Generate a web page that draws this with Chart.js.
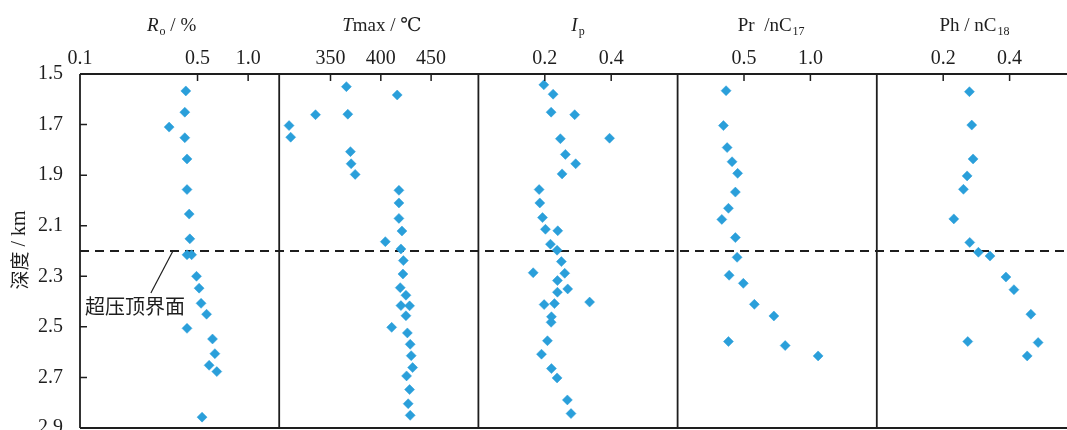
<!DOCTYPE html>
<html>
<head>
<meta charset="utf-8">
<script src="https://cdn.jsdelivr.net/npm/chart.js@4/dist/chart.umd.min.js"></script>
<style>
  html, body { margin: 0; padding: 0; background: #fff; overflow: hidden; }
  #wrap { position: absolute; left: 0; top: 0; width: 1090px; height: 450px; }
</style>
</head>
<body>
<div id="wrap"><canvas id="c"></canvas></div>
<script>
// Depth axis (km), shared by all five panels
const depthTicks = [1.5, 1.7, 1.9, 2.1, 2.3, 2.5, 2.7, 2.9];
const depthLabels = ['1.5', '1.7', '1.9', '2.1', '2.3', '2.5', '2.7', '2.9'];
const overpressureTop = 2.2;

// Vitrinite reflectance Ro (%)
const roDepth = [1.567, 1.651, 1.710, 1.752, 1.836, 1.957, 2.054, 2.152, 2.215, 2.215, 2.300, 2.347, 2.407, 2.450, 2.506, 2.548, 2.606, 2.652, 2.677, 2.857];
const roValue = [0.426, 0.420, 0.339, 0.420, 0.433, 0.433, 0.446, 0.450, 0.433, 0.461, 0.493, 0.511, 0.525, 0.566, 0.433, 0.614, 0.634, 0.586, 0.651, 0.532];
const roTicks = [0.1, 0.5, 1.0];
const roLabels = ['0.1', '0.5', '1.0'];

// Tmax (°C)
const tmaxDepth = [1.550, 1.583, 1.659, 1.661, 1.704, 1.750, 1.807, 1.855, 1.897, 1.960, 2.010, 2.071, 2.121, 2.163, 2.192, 2.238, 2.291, 2.345, 2.375, 2.416, 2.417, 2.456, 2.502, 2.524, 2.569, 2.614, 2.661, 2.694, 2.748, 2.804, 2.850];
const tmaxValue = [365.8, 416.3, 367.2, 335.1, 308.8, 310.4, 369.8, 370.5, 374.5, 418, 418, 418, 421, 404.5, 420, 422.4, 422, 419.3, 425, 420, 428.6, 425, 410.8, 426.4, 429.2, 430.2, 431.6, 425.6, 428.6, 427.2, 429.2];
const tmaxTicks = [350, 400, 450];
const tmaxLabels = ['350', '400', '450'];

// Production index Ip
const ipDepth = [1.543, 1.580, 1.651, 1.661, 1.754, 1.756, 1.818, 1.855, 1.895, 1.957, 2.010, 2.068, 2.114, 2.120, 2.173, 2.197, 2.242, 2.286, 2.288, 2.317, 2.350, 2.363, 2.402, 2.408, 2.412, 2.460, 2.482, 2.555, 2.608, 2.665, 2.702, 2.789, 2.843];
const ipValue = [0.197, 0.225, 0.219, 0.290, 0.395, 0.247, 0.262, 0.293, 0.252, 0.183, 0.185, 0.193, 0.202, 0.239, 0.217, 0.237, 0.250, 0.165, 0.260, 0.238, 0.269, 0.238, 0.335, 0.229, 0.198, 0.220, 0.219, 0.208, 0.190, 0.220, 0.237, 0.268, 0.279];
const ipTicks = [0.2, 0.4];
const ipLabels = ['0.2', '0.4'];

// Pristane / nC17
const prDepth = [1.566, 1.704, 1.791, 1.847, 1.893, 1.967, 2.031, 2.075, 2.147, 2.225, 2.296, 2.328, 2.411, 2.457, 2.558, 2.574, 2.615];
const prValue = [0.365, 0.345, 0.373, 0.410, 0.452, 0.435, 0.383, 0.333, 0.435, 0.448, 0.388, 0.495, 0.578, 0.725, 0.383, 0.810, 1.058];
const prTicks = [0.5, 1.0];
const prLabels = ['0.5', '1.0'];

// Phytane / nC18
const phDepth = [1.570, 1.702, 1.836, 1.903, 1.956, 2.073, 2.166, 2.205, 2.220, 2.303, 2.353, 2.450, 2.558, 2.562, 2.615];
const phValue = [0.279, 0.286, 0.290, 0.272, 0.261, 0.232, 0.280, 0.306, 0.341, 0.389, 0.413, 0.464, 0.274, 0.486, 0.453];
const phTicks = [0.2, 0.4];
const phLabels = ['0.2', '0.4'];

// Panel titles as rich-text runs: style n = normal, i = italic, s = subscript
const panelTitles = [
  [['R', 'i'], ['o', 's'], [' / %', 'n']],
  [['T', 'i'], ['max / \u2103', 'n']],
  [['I', 'i'], ['p', 's']],
  [['Pr  /nC', 'n'], ['17', 's']],
  [['Ph / nC', 'n'], ['18', 's']]
];
const annotationText = '超压顶界面';
const yTitleCjk = '深度';
const yTitleUnit = ' / km';

// ---- styling ----
const MARK = '#2a9fda';
const INK = '#1e1e1e';
const SERIF = '"Liberation Serif", "DejaVu Serif", serif';
const CJK = '"Noto Sans CJK SC", sans-serif';
const titleShift = [-8, 3, 0, -6, -2];
const TICK_SIZE = 20;

const toPoints = (xs, ys) => xs.map((v, i) => ({ x: v, y: ys[i] }));

const panels = [
  { id: 'x0', type: 'logarithmic', min: 0.1, max: 1.53, ticks: roTicks, labels: roLabels, xs: roValue, ys: roDepth },
  { id: 'x1', type: 'linear', min: 299, max: 497, ticks: tmaxTicks, labels: tmaxLabels, xs: tmaxValue, ys: tmaxDepth },
  { id: 'x2', type: 'linear', min: 0, max: 0.6, ticks: ipTicks, labels: ipLabels, xs: ipValue, ys: ipDepth },
  { id: 'x3', type: 'linear', min: 0, max: 1.5, ticks: prTicks, labels: prLabels, xs: prValue, ys: prDepth },
  { id: 'x4', type: 'linear', min: 0, max: 0.6, ticks: phTicks, labels: phLabels, xs: phValue, ys: phDepth }
];

const scales = {
  y: {
    type: 'linear',
    position: 'left',
    reverse: true,
    min: 1.5,
    max: 2.9,
    grid: { display: false },
    border: { display: false },
    afterBuildTicks: s => { s.ticks = depthTicks.map(v => ({ value: v })); },
    afterFit: s => { s.width = 80; },
    ticks: {
      padding: 9,
      color: INK,
      font: { family: SERIF, size: TICK_SIZE },
      callback: (v) => depthLabels[depthTicks.findIndex(t => Math.abs(t - v) < 1e-6)] ?? ''
    }
  }
};
// Top axes sharing one stack are laid out last-registered first, so register them in reverse
panels.slice().reverse().forEach(p => {
  scales[p.id] = {
    type: p.type,
    position: 'top',
    stack: 'panels',
    stackWeight: 1,
    min: p.min,
    max: p.max,
    grid: { display: false },
    border: { display: false },
    afterBuildTicks: s => { s.ticks = p.ticks.map(v => ({ value: v })); },
    afterFit: s => { s.height = 74; },
    ticks: {
      padding: -5,
      autoSkip: false,
      maxRotation: 0,
      color: INK,
      font: { family: SERIF, size: TICK_SIZE },
      callback: (v) => p.labels[p.ticks.findIndex(t => Math.abs(t - v) < 1e-6)] ?? ''
    }
  };
});

const datasets = panels.map(p => ({
  data: toPoints(p.xs, p.ys),
  xAxisID: p.id,
  yAxisID: 'y',
  showLine: false,
  pointStyle: 'rectRot',
  pointRadius: 5,
  pointBackgroundColor: MARK,
  pointBorderColor: MARK,
  pointBorderWidth: 0.5
}));

// Frame, inward tick marks, the overpressure line and all rich-text labels
const framePlugin = {
  id: 'frame',
  beforeDatasetsDraw(chart) {
    const { ctx, chartArea: a } = chart;
    const y = chart.scales.y.getPixelForValue(overpressureTop);
    ctx.save();
    ctx.strokeStyle = INK;
    ctx.lineWidth = 2;
    ctx.setLineDash([9, 6]);
    ctx.beginPath();
    ctx.moveTo(a.left, y);
    ctx.lineTo(a.right, y);
    ctx.stroke();
    ctx.restore();
  },
  afterDraw(chart) {
    const { ctx, chartArea: a } = chart;
    const ys = chart.scales.y;
    ctx.save();
    ctx.strokeStyle = INK;
    ctx.lineWidth = 1.8;
    // outer frame and panel dividers
    ctx.beginPath();
    ctx.moveTo(a.left, a.top); ctx.lineTo(a.right, a.top);
    ctx.moveTo(a.left, a.bottom); ctx.lineTo(a.right, a.bottom);
    ctx.moveTo(a.left, a.top); ctx.lineTo(a.left, a.bottom);
    panels.forEach(p => {
      const s = chart.scales[p.id];
      ctx.moveTo(s.right, a.top); ctx.lineTo(s.right, a.bottom);
    });
    ctx.stroke();
    // inward tick marks
    ctx.lineWidth = 1.5;
    ctx.beginPath();
    panels.forEach(p => {
      const s = chart.scales[p.id];
      p.ticks.forEach(v => {
        const x = s.getPixelForValue(v);
        if (x - s.left > 3) { ctx.moveTo(x, a.top); ctx.lineTo(x, a.top + 7); }
      });
    });
    depthTicks.forEach(v => {
      const y = ys.getPixelForValue(v);
      if (y - a.top > 3 && a.bottom - y > 3) { ctx.moveTo(a.left, y); ctx.lineTo(a.left + 7, y); }
    });
    ctx.stroke();

    // panel titles
    ctx.fillStyle = INK;
    ctx.textBaseline = 'alphabetic';
    const fontFor = st => st === 'i' ? `italic 19px ${SERIF}` : st === 's' ? `12px ${SERIF}` : `19px ${SERIF}`;
    panels.forEach((p, i) => {
      const s = chart.scales[p.id];
      const runs = panelTitles[i];
      let w = 0;
      runs.forEach(([t, st]) => { ctx.font = fontFor(st); w += ctx.measureText(t).width + (st === 's' ? 1 : 0); });
      let x = (s.left + s.right) / 2 + titleShift[i] - w / 2;
      const base = 31;
      runs.forEach(([t, st]) => {
        ctx.font = fontFor(st);
        if (st === 's') x += 1;
        ctx.fillText(t, x, st === 's' ? base + 4 : base);
        x += ctx.measureText(t).width;
      });
    });

    // depth axis title, rotated
    ctx.save();
    ctx.translate(20, 250);
    ctx.rotate(-Math.PI / 2);
    ctx.textBaseline = 'middle';
    ctx.font = `19px ${CJK}`;
    const w1 = ctx.measureText(yTitleCjk).width;
    ctx.font = `20px ${SERIF}`;
    const w2 = ctx.measureText(yTitleUnit).width;
    let tx = -(w1 + w2) / 2;
    ctx.font = `19px ${CJK}`;
    ctx.fillText(yTitleCjk, tx, 0);
    ctx.font = `20px ${SERIF}`;
    ctx.fillText(yTitleUnit, tx + w1, 0);
    ctx.restore();

    // overpressure-top callout
    const xs = chart.scales.x0;
    const lx0 = xs.getPixelForValue(0.264), ly0 = ys.getPixelForValue(2.366);
    const lx1 = xs.getPixelForValue(0.357), ly1 = ys.getPixelForValue(overpressureTop);
    ctx.lineWidth = 1.2;
    ctx.beginPath();
    ctx.moveTo(lx0, ly0); ctx.lineTo(lx1, ly1);
    ctx.stroke();
    ctx.font = `20px ${CJK}`;
    ctx.textBaseline = 'middle';
    ctx.textAlign = 'left';
    ctx.fillText(annotationText, xs.getPixelForValue(0.107), ys.getPixelForValue(2.421));
    ctx.restore();
  }
};

new Chart(document.getElementById('c'), {
  type: 'scatter',
  data: { datasets },
  options: {
    responsive: true,
    maintainAspectRatio: false,
    animation: false,
    layout: { padding: { left: 0, top: 0, right: 14, bottom: 22 } },
    plugins: { legend: { display: false }, tooltip: { enabled: false } },
    scales
  },
  plugins: [framePlugin]
});
</script>
</body>
</html>
